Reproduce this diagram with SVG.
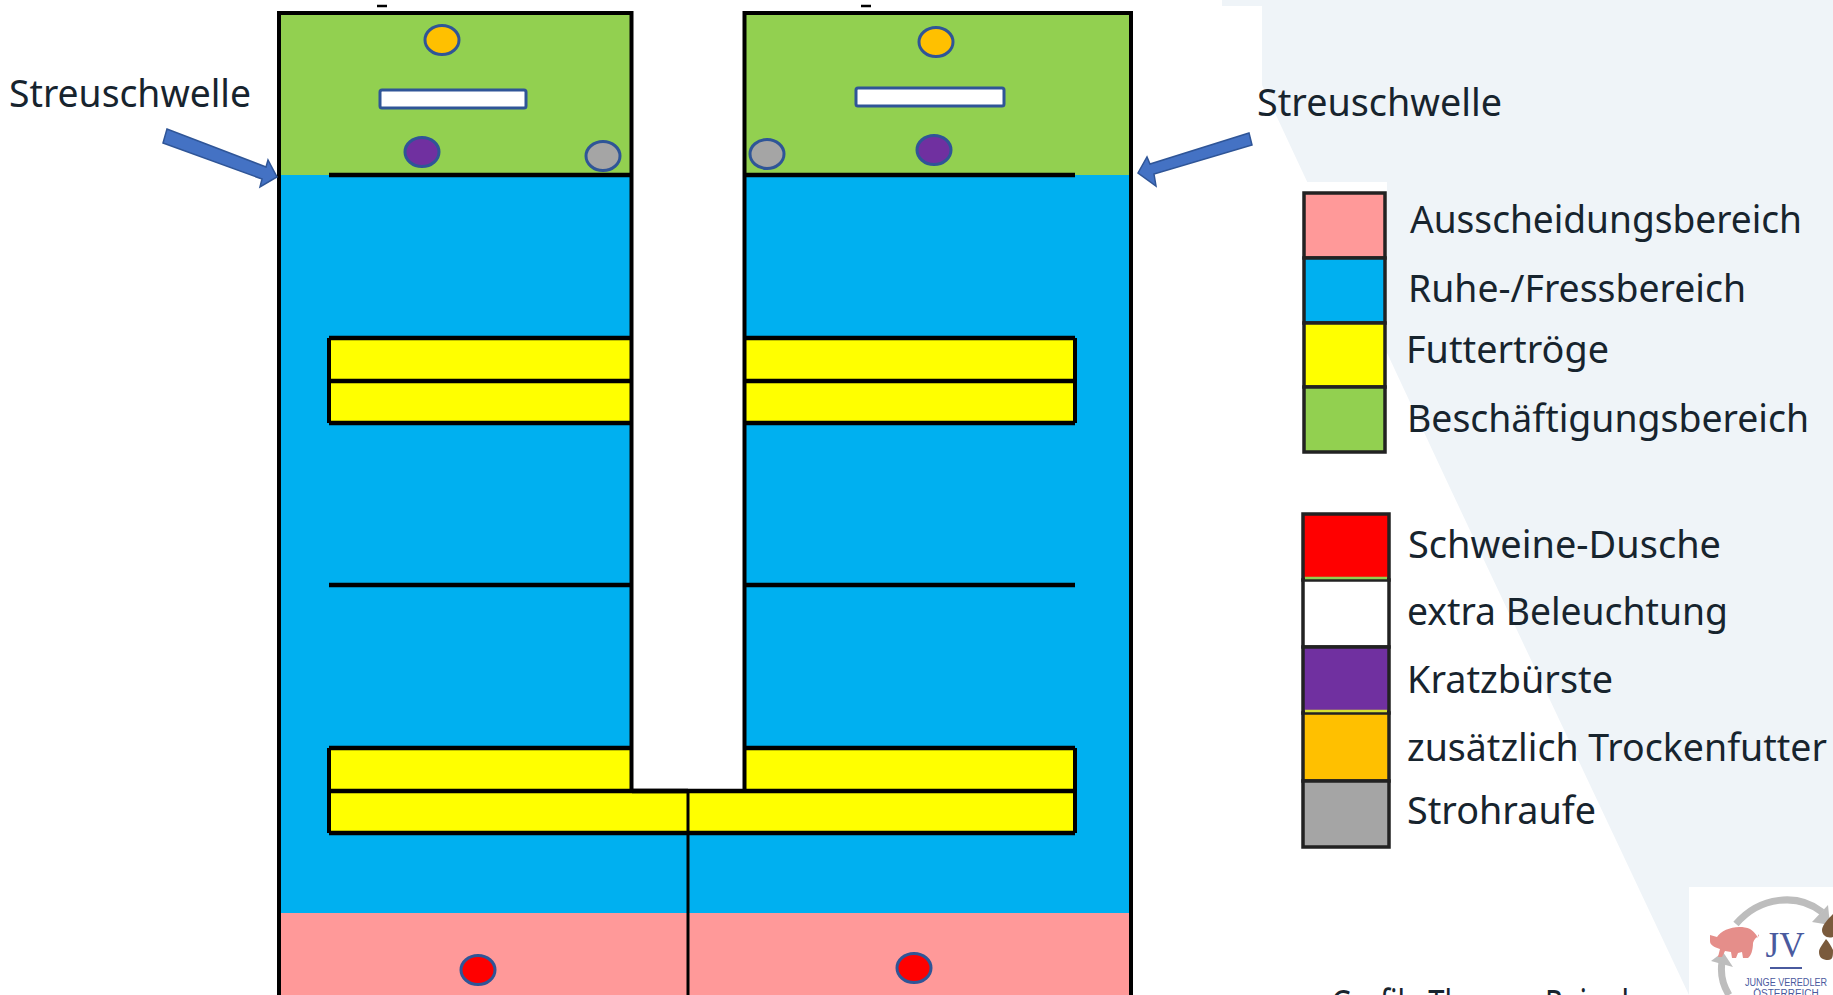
<svg xmlns="http://www.w3.org/2000/svg" width="1833" height="995" viewBox="0 0 1833 995">
<style>
.t{font-family:"Noto Sans","Liberation Sans",sans-serif;font-size:39px;fill:#17242e}
.w{stroke:#000;stroke-width:4;fill:none}
.h{stroke:#000;stroke-width:4.5;fill:none}
.m{stroke:#2f5597;stroke-width:3}
.l{stroke:#222;stroke-width:3.5}
.a{fill:#4472c4;stroke:#2f5597;stroke-width:1.5}
.g{fill:none;stroke:#bdbdbd;stroke-width:7}
.gh{fill:#bdbdbd}
.d{fill:#7a5a3c}
.jv{fill:#4a5a9e;text-anchor:middle}
</style>
<rect width="1833" height="995" fill="#fff"/>
<polygon points="1222,0 1833,0 1833,995 1689,995 1451,490 1262,85 1262,6 1222,6" fill="#eff4f8"/>
<path d="M377 6H387M861 6H871" stroke="#000" stroke-width="2.5"/>
<g id="pen-left">
<rect x="279" y="13" width="353" height="162" fill="#92d050"/>
<rect x="279" y="175" width="353" height="738" fill="#00b0f0"/>
<rect x="632" y="833" width="56" height="80" fill="#00b0f0"/>
<rect x="279" y="913" width="409" height="82" fill="#ff9999"/>
<rect x="329" y="338" width="303" height="85" fill="#ff0"/>
<rect x="329" y="748" width="303" height="85" fill="#ff0"/>
<rect x="632" y="791" width="56" height="42" fill="#ff0"/>
<path class="w" d="M279 995V13H631.500V791M329 338V423M329 748V833"/>
<path class="h" d="M329 175H632M329 338H632M329 381H632M329 423H632M329 585H632M329 748H632M329 791H688M329 833H688"/>
</g>
<g id="pen-right">
<rect x="744" y="13" width="387" height="162" fill="#92d050"/>
<rect x="744" y="175" width="387" height="738" fill="#00b0f0"/>
<rect x="688" y="833" width="56" height="80" fill="#00b0f0"/>
<rect x="688" y="913" width="443" height="82" fill="#ff9999"/>
<rect x="744" y="338" width="331" height="85" fill="#ff0"/>
<rect x="744" y="748" width="331" height="85" fill="#ff0"/>
<rect x="688" y="791" width="387" height="42" fill="#ff0"/>
<path class="w" d="M1131 995V13H744.500V791M1075 338V423M1075 748V833"/>
<path class="h" d="M744 175H1075M744 338H1075M744 381H1075M744 423H1075M744 585H1075M744 748H1075M632 791H1075M688 833H1075"/>
<path d="M688 791V995" stroke="#000" stroke-width="3"/>
</g>
<g id="fixtures">
<ellipse class="m" cx="442" cy="40" rx="17" ry="14.500" fill="#ffc000"/>
<rect class="m" x="380" y="90" width="146" height="18" rx="2" fill="#fff"/>
<ellipse class="m" cx="422" cy="152" rx="17" ry="14.500" fill="#7030a0"/>
<ellipse class="m" cx="603" cy="156" rx="17" ry="14.500" fill="#a5a5a5"/>
<ellipse class="m" cx="936" cy="42" rx="17" ry="14.500" fill="#ffc000"/>
<rect class="m" x="856" y="88" width="148" height="18" rx="2" fill="#fff"/>
<ellipse class="m" cx="934" cy="150" rx="17" ry="14.500" fill="#7030a0"/>
<ellipse class="m" cx="767" cy="154" rx="17" ry="14.500" fill="#a5a5a5"/>
<ellipse class="m" cx="478" cy="970" rx="17" ry="14.500" fill="#f00"/>
<ellipse class="m" cx="914" cy="968" rx="17" ry="14.500" fill="#f00"/>
</g>
<g id="connectors">
<polygon class="a" points="167,129 163,143 262,179 260,187 277,177 268,160 266,167"/>
<polygon class="a" points="1249,133 1252,145 1154,174 1156,186 1138,173 1147,157 1150,164"/>
</g>
<g id="legend-areas">
<rect x="1302" y="182" width="85" height="273" fill="#fff"/>
<rect class="l" x="1304" y="193" width="81" height="65" fill="#ff9999"/>
<rect class="l" x="1304" y="258" width="81" height="65" fill="#00b0f0"/>
<rect class="l" x="1304" y="323" width="81" height="64" fill="#ff0"/>
<rect class="l" x="1304" y="387" width="81" height="65" fill="#92d050"/>
</g>
<g id="legend-items">
<rect class="l" x="1303" y="514" width="86" height="66" fill="#f00"/>
<rect class="l" x="1303" y="580" width="86" height="67" fill="#fff"/>
<rect class="l" x="1303" y="647" width="86" height="66" fill="#7030a0"/>
<rect class="l" x="1303" y="713" width="86" height="68" fill="#ffc000"/>
<rect class="l" x="1303" y="781" width="86" height="66" fill="#a5a5a5"/>
<path d="M1305 578H1387" stroke="#92d050" stroke-width="2.500"/>
<path d="M1305 711H1387" stroke="#d8e030" stroke-width="2.500"/>
</g>
<g id="labels">
<text class="t" x="9" y="107" textLength="242" lengthAdjust="spacingAndGlyphs">Streuschwelle</text>
<text class="t" x="1257" y="116" textLength="245" lengthAdjust="spacingAndGlyphs">Streuschwelle</text>
<text class="t" x="1410" y="233" textLength="392" lengthAdjust="spacingAndGlyphs">Ausscheidungsbereich</text>
<text class="t" x="1408" y="302" textLength="338" lengthAdjust="spacingAndGlyphs">Ruhe-/Fressbereich</text>
<text class="t" x="1406" y="363" textLength="203" lengthAdjust="spacingAndGlyphs">Futtertröge</text>
<text class="t" x="1407" y="432" textLength="402" lengthAdjust="spacingAndGlyphs">Beschäftigungsbereich</text>
<text class="t" x="1408" y="558" textLength="313" lengthAdjust="spacingAndGlyphs">Schweine-Dusche</text>
<text class="t" x="1407" y="625" textLength="321" lengthAdjust="spacingAndGlyphs">extra Beleuchtung</text>
<text class="t" x="1407" y="693" textLength="206" lengthAdjust="spacingAndGlyphs">Kratzbürste</text>
<text class="t" x="1407" y="761" textLength="420" lengthAdjust="spacingAndGlyphs">zusätzlich Trockenfutter</text>
<text class="t" x="1407" y="824" textLength="189" lengthAdjust="spacingAndGlyphs">Strohraufe</text>
<text class="t" x="1331" y="1017" textLength="298" lengthAdjust="spacingAndGlyphs">Grafik: Thomas Reinel</text>
</g>
<g id="logo">
<rect x="1689" y="887" width="144" height="108" fill="#fff"/>
<path class="g" d="M1736 924C1760 896 1798 893 1822 912"/>
<polygon class="gh" points="1828,905 1830,925 1812,922"/>
<path class="g" d="M1722 962C1720 975 1724 987 1729 995"/>
<polygon class="gh" points="1711,961 1723,952 1733,967"/>
<path d="M1710 935L1717 937C1722 929 1738 924 1750 929C1755 932 1757 936 1758 938L1758 934L1759 936C1755 938 1754 940 1753 943C1753 950 1751 956 1748 958L1743 958L1742 952L1738 953L1736 958L1732 958L1731 952L1725 951L1722 957L1718 957L1720 949C1714 947 1710 945 1710 941Z" fill="#e58e8a"/>
<text class="jv" x="1785" y="957" font-family="Liberation Serif,serif" font-size="35">JV</text>
<path d="M1770 968H1802" stroke="#4a5a9e" stroke-width="2"/>
<text class="jv" x="1786" y="986" font-family="Liberation Sans,sans-serif" font-size="10" textLength="82" lengthAdjust="spacingAndGlyphs">JUNGE VEREDLER</text>
<text class="jv" x="1786" y="997" font-family="Liberation Sans,sans-serif" font-size="10">ÖSTERREICH</text>
<path class="d" d="M1833 914C1829 918 1822 925 1822 930C1822 935 1827 939 1833 937Z"/>
<path class="d" d="M1826 939C1823 944 1819 948 1819 952C1819 958 1823 960 1828 960C1833 960 1833 956 1833 950C1831 946 1829 942 1826 939Z"/>
</g>
</svg>
